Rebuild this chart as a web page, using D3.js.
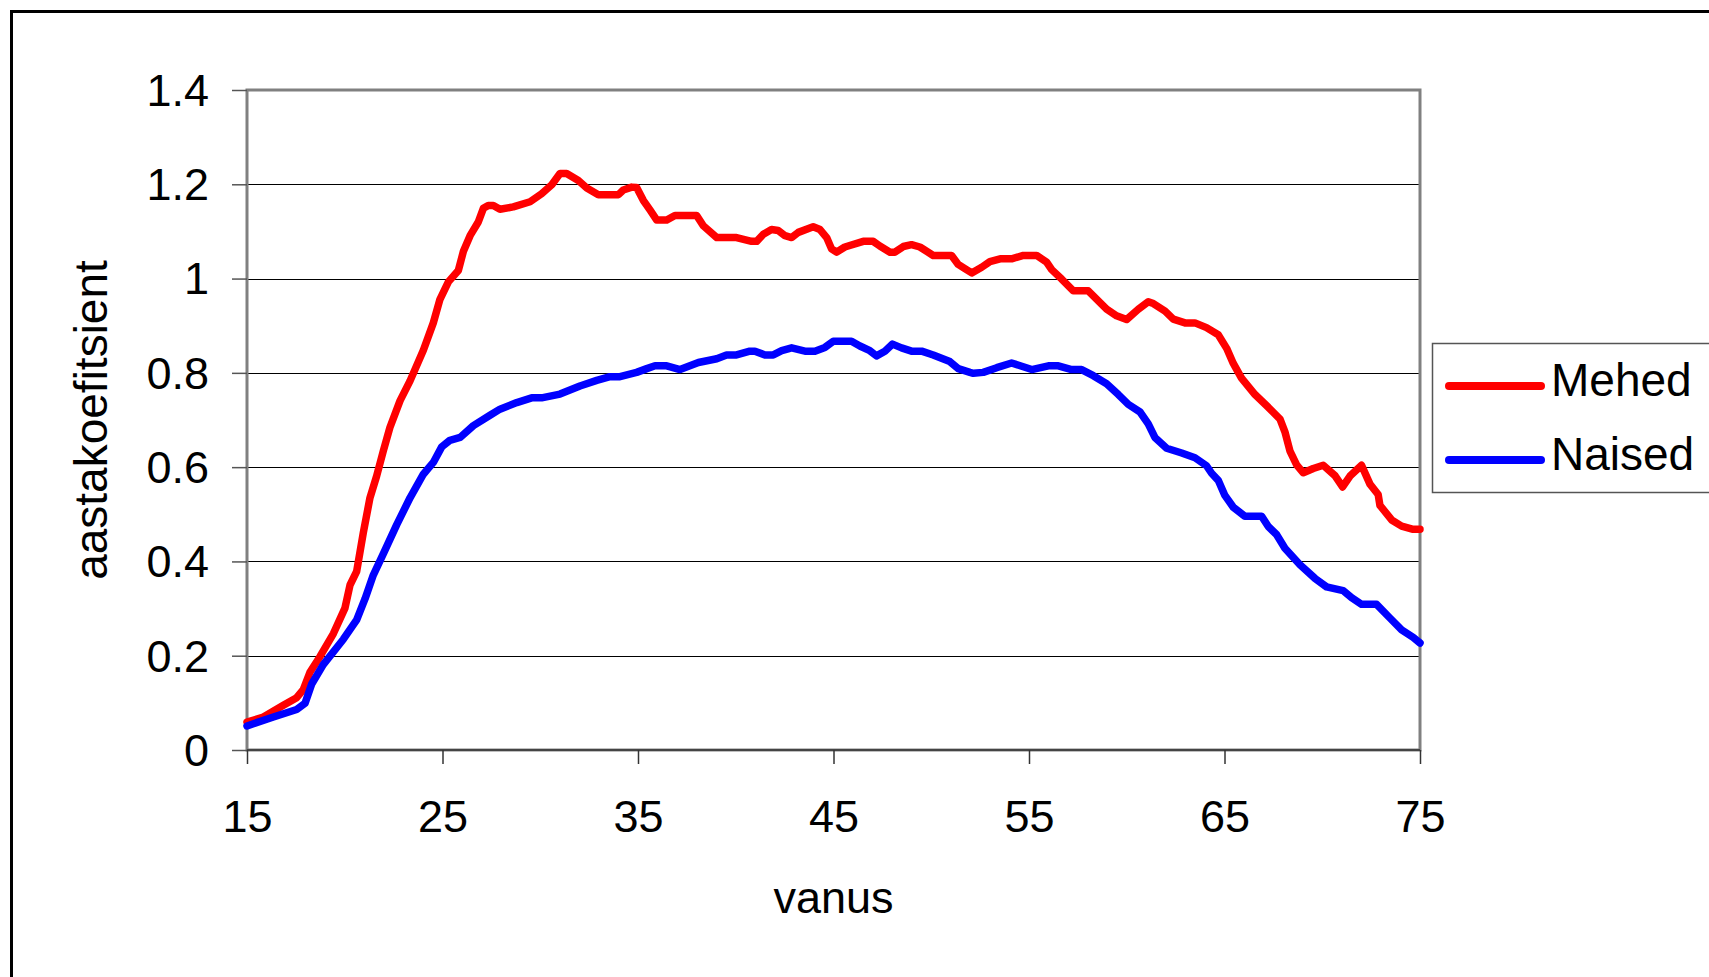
<!DOCTYPE html>
<html>
<head>
<meta charset="utf-8">
<script src="https://cdn.jsdelivr.net/npm/d3@7"></script>
<style>
  body { margin: 0; background: #fff; }
  svg { display: block; font-family: "Liberation Sans", Arial, sans-serif; }
</style>
</head>
<body>
<div id="chart-area"></div>
<script>
// values
const menAges = [15, 15.84, 16.86, 17.54, 17.88, 18.22, 18.73, 19.42, 20.01, 20.27, 20.61, 20.95,
  21.29, 21.63, 21.97, 22.31, 22.83, 23.34, 24.02, 24.53, 24.87, 25.3, 25.81, 26.07, 26.41, 26.83,
  27.09, 27.34, 27.6, 27.94, 28.62, 29.48, 30.07, 30.59, 31.01, 31.35, 31.95, 32.38, 32.97, 34.0,
  34.25, 34.68, 34.93, 35.27, 35.62, 35.96, 36.47, 36.89, 38.0, 38.34, 39.03, 40.04, 40.81, 41.07,
  41.41, 41.83, 42.17, 42.52, 42.86, 43.2, 43.96, 44.31, 44.65, 44.9, 45.16, 45.58, 46.52, 47.03,
  47.37, 47.89, 48.14, 48.57, 48.99, 49.42, 50.1, 51.04, 51.38, 51.72, 52.07, 52.58, 53.0, 53.52,
  54.11, 54.71, 55.39, 55.9, 56.16, 56.67, 57.27, 58.03, 58.97, 59.48, 59.99, 60.59, 61.1, 61.36,
  61.96, 62.38, 62.98, 63.49, 64.08, 64.68, 65.11, 65.45, 65.87, 66.56, 67.24, 67.84, 68.09, 68.35,
  68.69, 69.03, 69.54, 70.05, 70.65, 71.04, 71.42, 72.01, 72.44, 72.86, 72.95, 73.55, 74.06, 74.65, 75];
const menCoef = [0.059, 0.07, 0.095, 0.111, 0.128, 0.165, 0.198, 0.247, 0.301, 0.35, 0.379, 0.461,
  0.535, 0.581, 0.634, 0.684, 0.741, 0.783, 0.848, 0.906, 0.956, 0.993, 1.017, 1.058, 1.091, 1.12,
  1.149, 1.155, 1.155, 1.147, 1.152, 1.163, 1.18, 1.199, 1.223, 1.223, 1.208, 1.192, 1.178, 1.178,
  1.188, 1.194, 1.193, 1.166, 1.145, 1.124, 1.124, 1.134, 1.134, 1.112, 1.087, 1.087, 1.079, 1.079,
  1.094, 1.104, 1.102, 1.091, 1.087, 1.098, 1.11, 1.104, 1.087, 1.063, 1.056, 1.067, 1.079, 1.079,
  1.069, 1.056, 1.056, 1.068, 1.072, 1.067, 1.049, 1.049, 1.03, 1.021, 1.012, 1.024, 1.036, 1.042,
  1.042, 1.049, 1.049, 1.035, 1.019, 0.999, 0.974, 0.974, 0.935, 0.921, 0.913, 0.935, 0.951, 0.947,
  0.931, 0.914, 0.906, 0.906, 0.896, 0.881, 0.852, 0.82, 0.789, 0.754, 0.727, 0.702, 0.675, 0.634,
  0.605, 0.588, 0.597, 0.604, 0.582, 0.558, 0.581, 0.604, 0.564, 0.542, 0.519, 0.488, 0.475, 0.468, 0.468];

const womenAges = [15, 16.35, 17.54, 17.97, 18.31, 18.9, 19.93, 20.61, 21.04, 21.46, 21.97, 22.66,
  23.34, 24.02, 24.53, 24.96, 25.38, 25.9, 26.58, 27.43, 27.94, 28.8, 29.56, 30.07, 31.01, 32.03,
  32.89, 33.57, 34.08, 34.93, 35.45, 35.87, 36.47, 37.15, 38.09, 39.03, 39.53, 40.04, 40.72, 40.98,
  41.49, 41.92, 42.35, 42.86, 43.54, 44.05, 44.56, 44.99, 45.92, 46.35, 46.86, 47.2, 47.63, 48.02,
  48.48, 48.99, 49.51, 50.1, 50.95, 51.38, 51.98, 52.15, 52.66, 53.35, 54.11, 54.63, 55.14, 55.99,
  56.5, 57.18, 57.69, 58.29, 58.97, 59.57, 60.08, 60.68, 61.1, 61.44, 62.04, 62.81, 63.49, 64.08,
  64.34, 64.68, 65.02, 65.45, 66.04, 66.9, 67.24, 67.66, 68.09, 68.86, 69.63, 70.22, 71.07, 71.5,
  72.01, 72.78, 73.46, 74.06, 74.65, 75];
const womenCoef = [0.051, 0.07, 0.086, 0.099, 0.14, 0.181, 0.235, 0.276, 0.321, 0.371, 0.416, 0.478,
  0.535, 0.585, 0.61, 0.643, 0.657, 0.663, 0.688, 0.71, 0.723, 0.737, 0.747, 0.747, 0.755, 0.772,
  0.784, 0.792, 0.792, 0.801, 0.809, 0.815, 0.815, 0.807, 0.822, 0.83, 0.838, 0.838, 0.846, 0.846,
  0.838, 0.838, 0.847, 0.853, 0.846, 0.846, 0.854, 0.867, 0.867, 0.857, 0.847, 0.836, 0.846, 0.861,
  0.853, 0.846, 0.846, 0.838, 0.824, 0.809, 0.801, 0.799, 0.801, 0.811, 0.821, 0.814, 0.807, 0.815,
  0.815, 0.807, 0.807, 0.794, 0.777, 0.754, 0.733, 0.717, 0.692, 0.663, 0.64, 0.63, 0.62, 0.603,
  0.587, 0.572, 0.54, 0.515, 0.496, 0.496, 0.474, 0.457, 0.428, 0.393, 0.364, 0.346, 0.338, 0.323,
  0.309, 0.309, 0.28, 0.255, 0.239, 0.227];

const seriesNames = ["Mehed", "Naised"];
const seriesColors = ["#ff0000", "#0000ff"];
const xTicks = [15, 25, 35, 45, 55, 65, 75];
const yTicks = [0, 0.2, 0.4, 0.6, 0.8, 1, 1.2, 1.4];
const xTitle = "vanus";
const yTitle = "aastakoefitsient";

const drawChart = () => {
  const chartSize = { width: 1709, height: 977 };
  const plot = { left: 247, right: 1420, top: 90, bottom: 750 };
  const width = plot.right - plot.left;
  const height = plot.bottom - plot.top;

  const svg = d3.select("#chart-area")
    .append("svg")
    .attr("width", chartSize.width)
    .attr("height", chartSize.height);

  svg.append("rect")
    .attr("width", chartSize.width)
    .attr("height", chartSize.height)
    .attr("fill", "#fff");

  // outer frame (runs off the right and bottom edges)
  svg.append("rect")
    .attr("x", 11.5).attr("y", 11.5)
    .attr("width", 1720).attr("height", 1000)
    .attr("fill", "none")
    .attr("stroke", "#000")
    .attr("stroke-width", 3);

  const x = d3.scaleLinear().domain([15, 75]).range([0, width]);
  const y = d3.scaleLinear().domain([0, 1.4]).range([height, 0]);

  const g = svg.append("g")
    .attr("transform", `translate(${plot.left}, ${plot.top})`);

  // gridlines, snapped to whole pixels so they stay dark
  g.append("g")
    .attr("class", "grid")
    .call(d3.axisLeft(y).tickValues(yTicks.slice(1, -1)).tickSize(-width).tickFormat(""))
    .call(a => a.select(".domain").remove())
    .call(a => a.selectAll(".tick")
      .attr("transform", d => `translate(0, ${Math.round(y(d)) + 0.5})`))
    .selectAll("line")
    .attr("stroke", "#000")
    .attr("stroke-width", 1.2);

  // plot frame
  g.append("rect")
    .attr("width", width)
    .attr("height", height)
    .attr("fill", "none")
    .attr("stroke", "#808080")
    .attr("stroke-width", 3);

  g.append("line")
    .attr("x1", 0).attr("x2", width)
    .attr("y1", height).attr("y2", height)
    .attr("stroke", "#303030")
    .attr("stroke-width", 1.5);

  // y axis
  const yAxis = d3.axisLeft(y).tickValues(yTicks).tickSize(15).tickPadding(23)
    .tickFormat(d => d);
  g.append("g")
    .attr("class", "y-axis")
    .call(yAxis)
    .call(a => a.select(".domain").remove())
    .call(a => a.selectAll("line").attr("stroke", "#555").attr("stroke-width", 1.5))
    .selectAll("text")
    .attr("font-size", 45)
    .attr("font-family", "Liberation Sans, Arial, sans-serif")
    .attr("fill", "#000")
    .attr("dy", "0.34em");

  // x axis
  const xAxis = d3.axisBottom(x).tickValues(xTicks).tickSize(14);
  g.append("g")
    .attr("class", "x-axis")
    .attr("transform", `translate(0, ${height})`)
    .call(xAxis)
    .call(a => a.select(".domain").remove())
    .call(a => a.selectAll("line").attr("stroke", "#333").attr("stroke-width", 1.5))
    .selectAll("text")
    .attr("font-size", 45)
    .attr("font-family", "Liberation Sans, Arial, sans-serif")
    .attr("fill", "#000")
    .attr("y", 82)
    .attr("dy", 0);

  // lines
  const line = d3.line()
    .x(d => x(d[0]))
    .y(d => y(d[1]));

  const series = [
    d3.zip(menAges, menCoef),
    d3.zip(womenAges, womenCoef),
  ];

  g.selectAll(".series")
    .data(series)
    .enter()
    .append("path")
    .attr("class", "series")
    .attr("d", line)
    .attr("fill", "none")
    .attr("stroke", (d, i) => seriesColors[i])
    .attr("stroke-width", 7.5)
    .attr("stroke-linejoin", "round")
    .attr("stroke-linecap", "round");

  // axis titles
  svg.append("text")
    .text(xTitle)
    .attr("x", plot.left + width / 2)
    .attr("y", 913)
    .attr("text-anchor", "middle")
    .attr("font-size", 45);

  svg.append("text")
    .text(yTitle)
    .attr("transform", `translate(107, ${plot.top + height / 2}) rotate(-90)`)
    .attr("text-anchor", "middle")
    .attr("font-size", 46);

  // legend
  const legend = svg.append("g").attr("class", "legend");
  legend.append("rect")
    .attr("x", 1432.5).attr("y", 343.5)
    .attr("width", 290).attr("height", 149)
    .attr("fill", "#fff")
    .attr("stroke", "#555")
    .attr("stroke-width", 1.5);

  const items = legend.selectAll(".item")
    .data(seriesNames)
    .enter()
    .append("g")
    .attr("class", "item")
    .attr("transform", (d, i) => `translate(0, ${386 + i * 74})`);

  items.append("line")
    .attr("x1", 1449).attr("x2", 1541)
    .attr("stroke", (d, i) => seriesColors[i])
    .attr("stroke-width", 8)
    .attr("stroke-linecap", "round");

  items.append("text")
    .text(d => d)
    .attr("x", 1551)
    .attr("y", 10)
    .attr("font-size", 46);
};

const main = () => {
  drawChart();
};
window.onload = main;
</script>
</body>
</html>
